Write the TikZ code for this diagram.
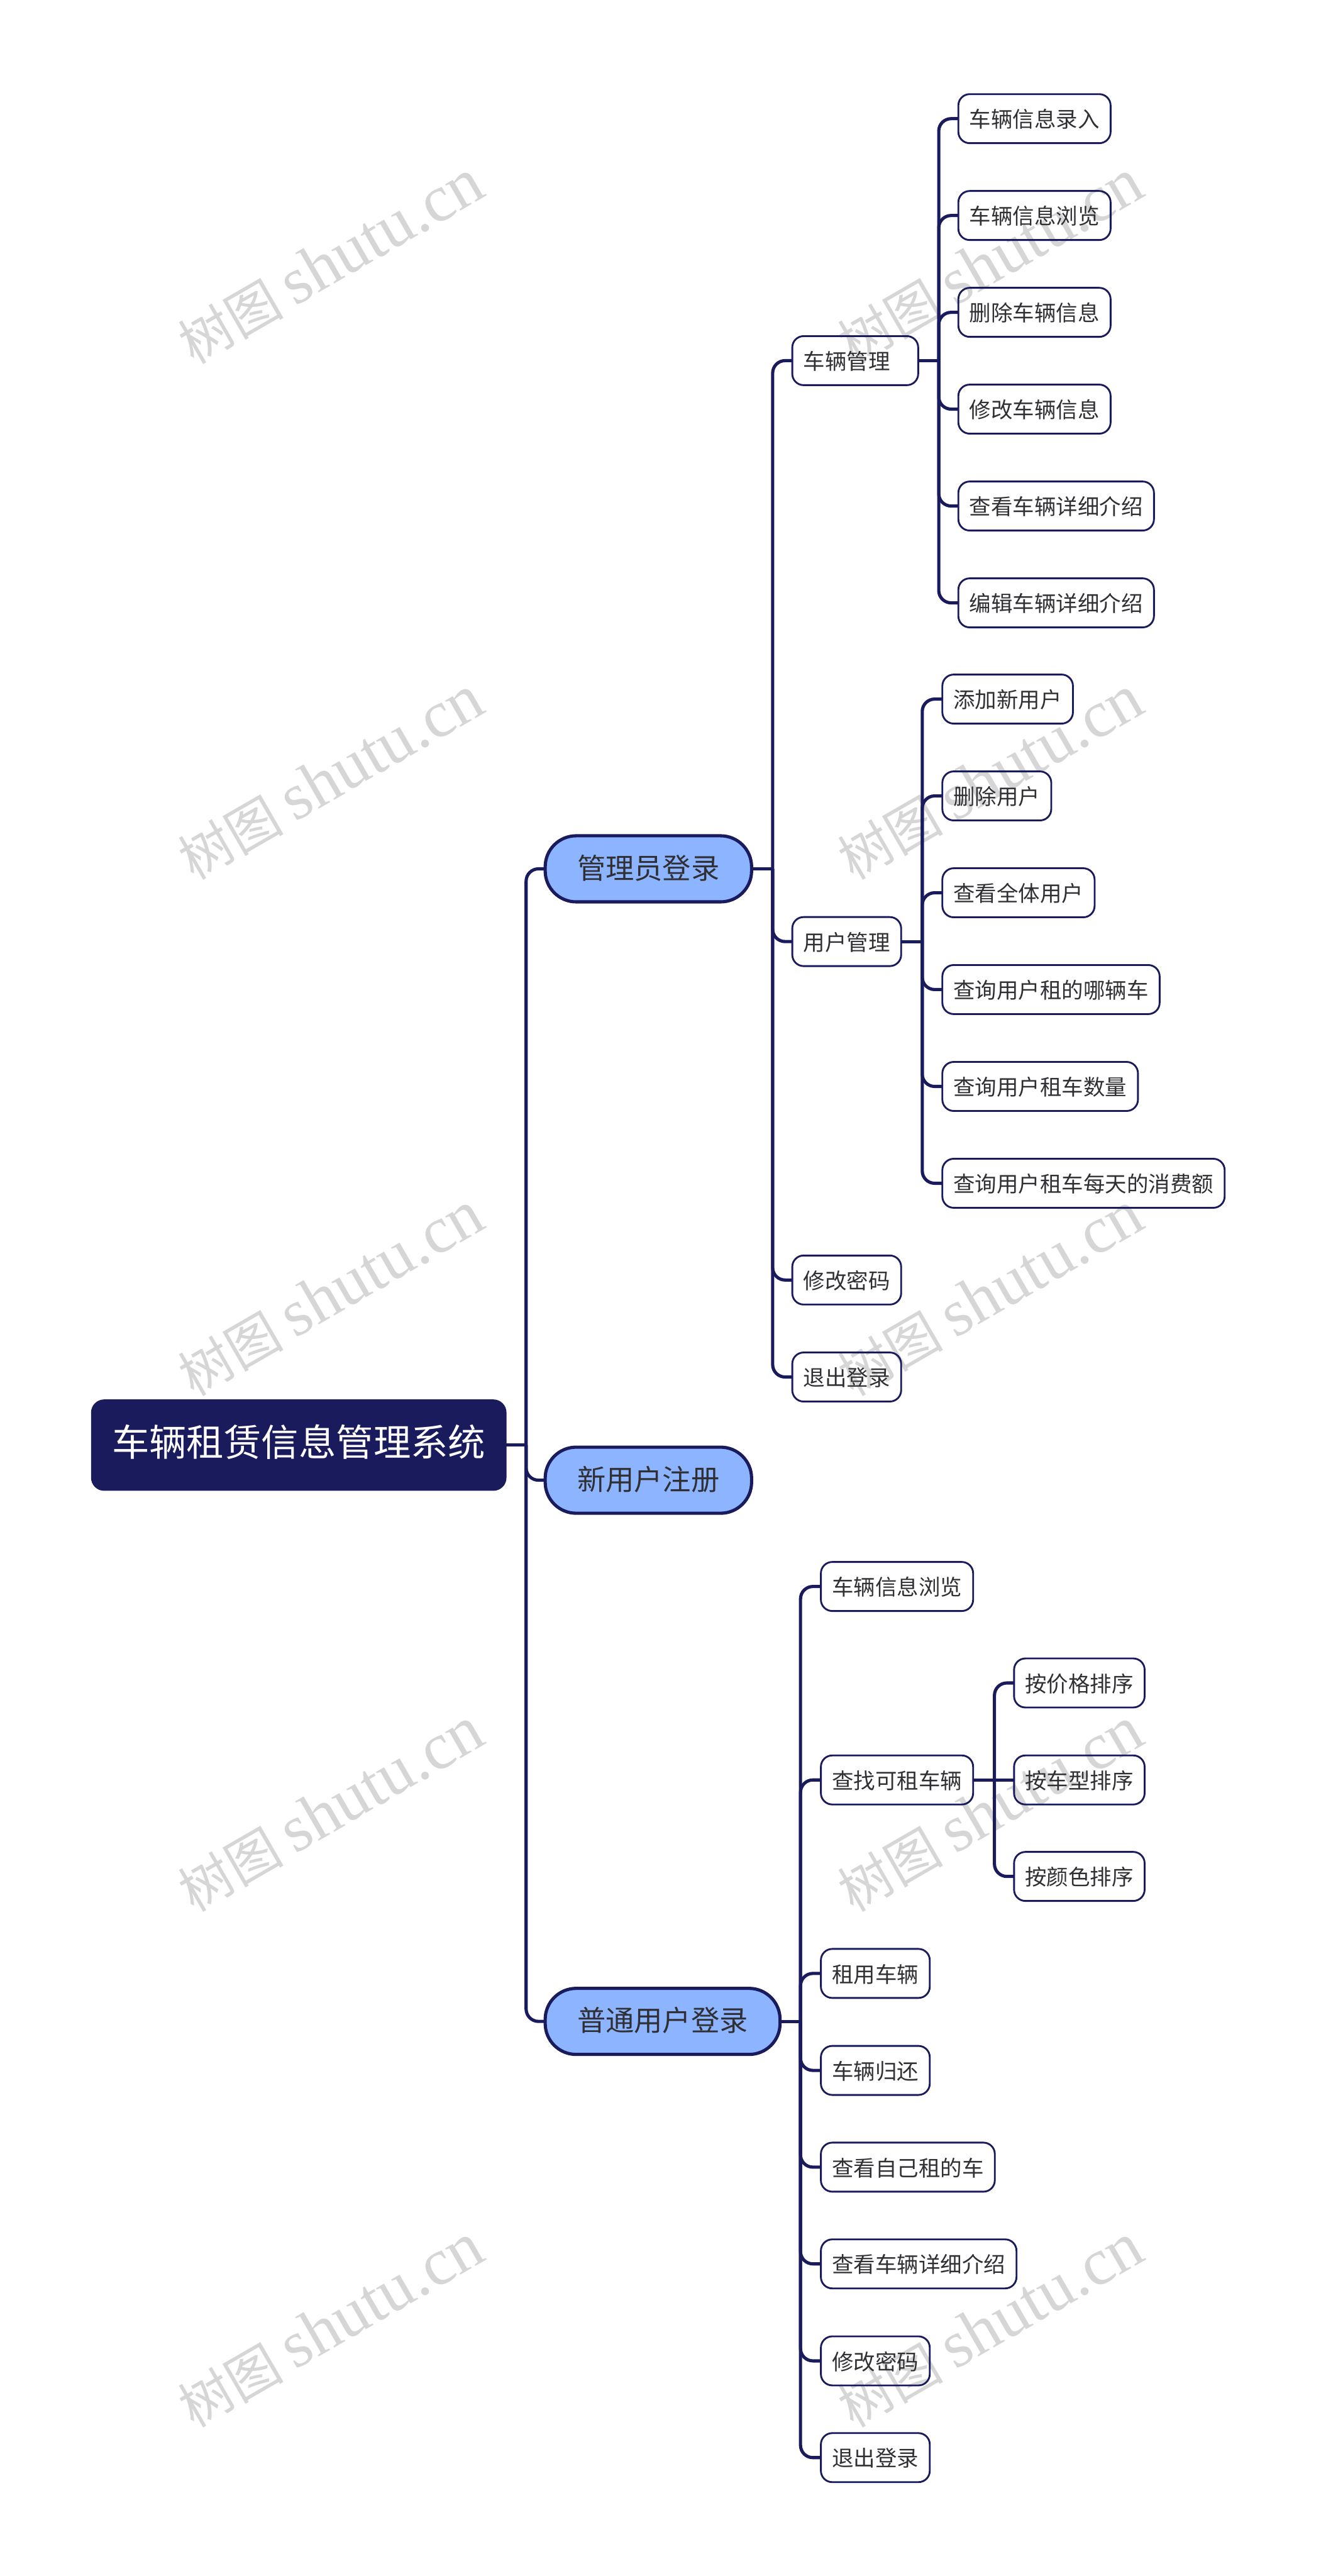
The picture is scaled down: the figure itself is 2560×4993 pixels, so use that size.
\documentclass[tikz,border=0pt]{standalone}
\usepackage{fontspec}
\usepackage{tikz}
\setmainfont{Noto Sans CJK SC}
\newfontfamily\markcjk{Noto Sans CJK SC}
\newfontfamily\marklatin{Liberation Serif}
\definecolor{navy}{RGB}{26, 27, 92}
\definecolor{sky}{RGB}{140, 180, 255}
\definecolor{ink}{RGB}{48, 48, 52}
\definecolor{gray85}{gray}{0.84}

\begin{document}
\begin{tikzpicture}[x=0.01cm, y=-0.01cm,
    rootbox/.style={anchor=west, outer sep=0pt, fill=navy, draw=navy, line width=0.3mm, rounded corners=2.4mm,
      text=white, font=\fontsize{20.6pt}{24pt}\selectfont, minimum width=80.2mm, minimum height=17.4mm,
      inner sep=0pt, text height=1.34em, text depth=.12em},
    mainbox/.style={anchor=west, outer sep=0pt, fill=sky, draw=navy, line width=0.62mm, rounded corners=6mm,
      text=ink, font=\fontsize{15.7pt}{18pt}\selectfont, minimum height=12.8mm,
      inner xsep=6.2mm, inner ysep=0pt, text height=1.2em, text depth=.12em},
    leafbox/.style={anchor=west, outer sep=0pt, draw=navy, line width=0.35mm, rounded corners=2.2mm,
      text=ink, font=\fontsize{11.95pt}{14pt}\selectfont, minimum height=9.5mm,
      inner xsep=2.15mm, inner ysep=0pt, text height=1.1em, text depth=.12em},
    link/.style={draw=navy, line width=0.62mm, rounded corners=2.4mm},
    wmark/.style={text=gray85, rotate=30, inner sep=0pt}]

  \useasboundingbox (0, 0) rectangle (2560, 4993);

  % watermark
  \node[wmark] (mark1) at (641, 508) {\fontsize{29pt}{30pt}\markcjk 树图 \fontsize{36.5pt}{30pt}\marklatin shutu.cn};
  \node[wmark] (mark2) at (641, 1508) {\fontsize{29pt}{30pt}\markcjk 树图 \fontsize{36.5pt}{30pt}\marklatin shutu.cn};
  \node[wmark] (mark3) at (641, 2508) {\fontsize{29pt}{30pt}\markcjk 树图 \fontsize{36.5pt}{30pt}\marklatin shutu.cn};
  \node[wmark] (mark4) at (641, 3508) {\fontsize{29pt}{30pt}\markcjk 树图 \fontsize{36.5pt}{30pt}\marklatin shutu.cn};
  \node[wmark] (mark5) at (641, 4508) {\fontsize{29pt}{30pt}\markcjk 树图 \fontsize{36.5pt}{30pt}\marklatin shutu.cn};
  \node[wmark] (mark6) at (1920, 508) {\fontsize{29pt}{30pt}\markcjk 树图 \fontsize{36.5pt}{30pt}\marklatin shutu.cn};
  \node[wmark] (mark7) at (1920, 1508) {\fontsize{29pt}{30pt}\markcjk 树图 \fontsize{36.5pt}{30pt}\marklatin shutu.cn};
  \node[wmark] (mark8) at (1920, 2508) {\fontsize{29pt}{30pt}\markcjk 树图 \fontsize{36.5pt}{30pt}\marklatin shutu.cn};
  \node[wmark] (mark9) at (1920, 3508) {\fontsize{29pt}{30pt}\markcjk 树图 \fontsize{36.5pt}{30pt}\marklatin shutu.cn};
  \node[wmark] (mark10) at (1920, 4508) {\fontsize{29pt}{30pt}\markcjk 树图 \fontsize{36.5pt}{30pt}\marklatin shutu.cn};

  \node[rootbox] (root) at (178, 2801) {车辆租赁信息管理系统};

  \node[mainbox] (admin) at (1057, 1684) {管理员登录};
  \node[mainbox] (signup) at (1057, 2869) {新用户注册};
  \node[mainbox] (member) at (1057, 3918) {普通用户登录};

  % admin branch
  \node[leafbox, text width=20.1mm] (carmgr) at (1536, 699) {车辆管理};
  \node[leafbox] (usermgr) at (1536, 1825) {用户管理};
  \node[leafbox] (adminpwd) at (1536, 2481) {修改密码};
  \node[leafbox] (adminout) at (1536, 2669) {退出登录};

  \node[leafbox] (caradd) at (1858, 230) {车辆信息录入};
  \node[leafbox] (carview) at (1858, 417.7) {车辆信息浏览};
  \node[leafbox] (cardel) at (1858, 605.4) {删除车辆信息};
  \node[leafbox] (caredit) at (1858, 793) {修改车辆信息};
  \node[leafbox] (cardetail) at (1858, 980.8) {查看车辆详细介绍};
  \node[leafbox] (carintro) at (1858, 1168.5) {编辑车辆详细介绍};

  \node[leafbox] (useradd) at (1827, 1355) {添加新用户};
  \node[leafbox] (userdel) at (1827, 1542.7) {删除用户};
  \node[leafbox] (userall) at (1827, 1730.4) {查看全体用户};
  \node[leafbox] (userwhich) at (1827, 1918) {查询用户租的哪辆车};
  \node[leafbox] (usercount) at (1827, 2105.8) {查询用户租车数量};
  \node[leafbox] (usercost) at (1827, 2293.5) {查询用户租车每天的消费额};

  % member branch
  \node[leafbox] (browse) at (1591.5, 3075) {车辆信息浏览};
  \node[leafbox] (search) at (1591.5, 3450) {查找可租车辆};
  \node[leafbox] (rent) at (1591.5, 3825) {租用车辆};
  \node[leafbox] (giveback) at (1591.5, 4013) {车辆归还};
  \node[leafbox] (myrent) at (1591.5, 4200.5) {查看自己租的车};
  \node[leafbox] (detail) at (1591.5, 4388) {查看车辆详细介绍};
  \node[leafbox] (memberpwd) at (1591.5, 4576) {修改密码};
  \node[leafbox] (memberout) at (1591.5, 4763.5) {退出登录};

  \node[leafbox] (byprice) at (1966, 3262) {按价格排序};
  \node[leafbox] (bytype) at (1966, 3450) {按车型排序};
  \node[leafbox] (bycolor) at (1966, 3637) {按颜色排序};

  \coordinate (rootbus) at (1020, 2801);
  \coordinate (adminbus) at (1498, 1684);
  \coordinate (carbus) at (1820, 699);
  \coordinate (userbus) at (1788, 1825);
  \coordinate (memberbus) at (1552, 3918);
  \coordinate (searchbus) at (1928, 3450);

  \draw[link] (root.east) -- (rootbus);
  \draw[link] (rootbus) |- (admin.west);
  \draw[link] (rootbus) |- (signup.west);
  \draw[link] (rootbus) |- (member.west);

  \draw[link] (admin.east) -- (adminbus);
  \draw[link] (adminbus) |- (carmgr.west);
  \draw[link] (adminbus) |- (usermgr.west);
  \draw[link] (adminbus) |- (adminpwd.west);
  \draw[link] (adminbus) |- (adminout.west);

  \draw[link] (carmgr.east) -- (carbus);
  \draw[link] (carbus) |- (caradd.west);
  \draw[link] (carbus) |- (carview.west);
  \draw[link] (carbus) |- (cardel.west);
  \draw[link] (carbus) |- (caredit.west);
  \draw[link] (carbus) |- (cardetail.west);
  \draw[link] (carbus) |- (carintro.west);

  \draw[link] (usermgr.east) -- (userbus);
  \draw[link] (userbus) |- (useradd.west);
  \draw[link] (userbus) |- (userdel.west);
  \draw[link] (userbus) |- (userall.west);
  \draw[link] (userbus) |- (userwhich.west);
  \draw[link] (userbus) |- (usercount.west);
  \draw[link] (userbus) |- (usercost.west);

  \draw[link] (member.east) -- (memberbus);
  \draw[link] (memberbus) |- (browse.west);
  \draw[link] (memberbus) |- (search.west);
  \draw[link] (memberbus) |- (rent.west);
  \draw[link] (memberbus) |- (giveback.west);
  \draw[link] (memberbus) |- (myrent.west);
  \draw[link] (memberbus) |- (detail.west);
  \draw[link] (memberbus) |- (memberpwd.west);
  \draw[link] (memberbus) |- (memberout.west);

  \draw[link] (search.east) -- (searchbus);
  \draw[link] (searchbus) |- (byprice.west);
  \draw[link] (searchbus) -- (bytype.west);
  \draw[link] (searchbus) |- (bycolor.west);

\end{tikzpicture}
\end{document}
